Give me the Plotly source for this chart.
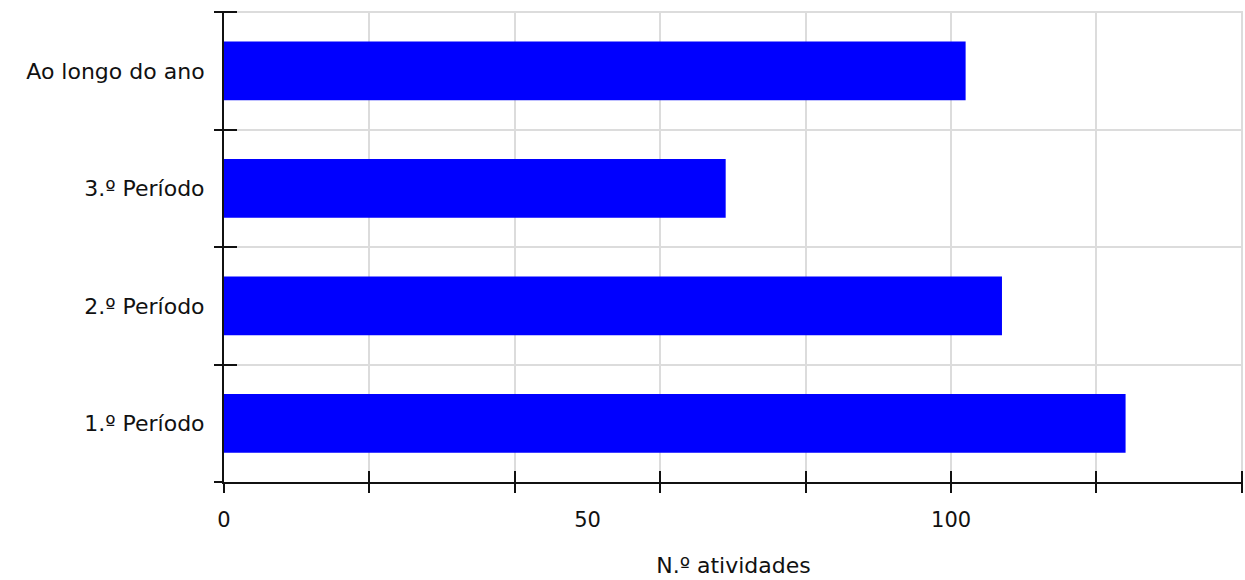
import plotly.graph_objects as go

categories = ["1.º Período", "2.º Período", "3.º Período", "Ao longo do ano"]
values = [124, 107, 69, 102]
x_label_ticks = [0, 50, 100]
x_grid_step = 20
x_max = 140
x_title = "N.º atividades"

n = len(categories)
boundaries = [i - 0.5 for i in range(n + 1)]
x_range = [0, x_max + 0.15]
y_range = [-0.5, n - 0.5 + 0.01]

fig = go.Figure(
    go.Bar(
        y=categories,
        x=values,
        orientation="h",
        width=0.5,
        marker=dict(color="#0000FF", line=dict(width=0)),
        hoverinfo="x+y",
    )
)
# empty helper traces so the overlay axes (extra tick marks / grid) are drawn
for xa, ya in (("x2", "y"), ("x3", "y"), ("x", "y2")):
    fig.add_trace(go.Scatter(x=[], y=[], xaxis=xa, yaxis=ya, mode="markers",
                             hoverinfo="skip", showlegend=False))

font_family = "DejaVu Sans"
grid_color = "#dcdcdc"
txt = "#111111"

fig.update_layout(
    width=1245,
    height=580,
    margin=dict(l=224, r=2, t=11, b=98),
    paper_bgcolor="white",
    plot_bgcolor="white",
    showlegend=False,
    font=dict(family=font_family, color=txt),
    xaxis=dict(
        range=x_range,
        tickmode="array",
        tickvals=x_label_ticks,
        showgrid=False,
        zeroline=False,
        ticks="",
        showline=True,
        linecolor=txt,
        linewidth=2,
        automargin=False,
        tickfont=dict(size=21, family=font_family, color=txt),
        ticklabelstandoff=18,
        title=dict(text=x_title, font=dict(size=22, family=font_family, color=txt), standoff=26),
    ),
    xaxis2=dict(
        overlaying="x",
        anchor="y",
        side="bottom",
        range=x_range,
        tickmode="linear",
        tick0=0,
        dtick=x_grid_step,
        showgrid=True,
        gridcolor=grid_color,
        gridwidth=1.5,
        ticks="outside",
        ticklen=10,
        tickwidth=2,
        tickcolor=txt,
        showticklabels=False,
        showline=False,
        zeroline=False,
        automargin=False,
    ),
    xaxis3=dict(
        overlaying="x",
        anchor="y",
        side="bottom",
        range=x_range,
        tickmode="linear",
        tick0=0,
        dtick=x_grid_step,
        showgrid=False,
        ticks="inside",
        ticklen=11,
        tickwidth=2,
        tickcolor=txt,
        showticklabels=False,
        showline=False,
        zeroline=False,
        automargin=False,
    ),
    yaxis=dict(
        type="category",
        categoryorder="array",
        categoryarray=categories,
        range=y_range,
        tickson="boundaries",
        ticks="outside",
        ticklen=8,
        tickwidth=2,
        tickcolor=txt,
        showgrid=True,
        gridcolor=grid_color,
        gridwidth=1.5,
        showline=True,
        linecolor=txt,
        linewidth=2,
        zeroline=False,
        automargin=False,
        tickfont=dict(size=22, family=font_family, color=txt),
        ticklabelstandoff=13,
    ),
    yaxis2=dict(
        overlaying="y",
        anchor="x",
        side="left",
        type="linear",
        range=y_range,
        tickmode="array",
        tickvals=boundaries,
        ticks="inside",
        ticklen=13,
        tickwidth=2,
        tickcolor=txt,
        showticklabels=False,
        showgrid=False,
        showline=False,
        zeroline=False,
        automargin=False,
    ),
    bargap=0.5,
)

fig.write_html(
    "out.html",
    config={"displayModeBar": False},
    post_script="document.body.style.margin='0';document.body.style.overflow='hidden';",
)
